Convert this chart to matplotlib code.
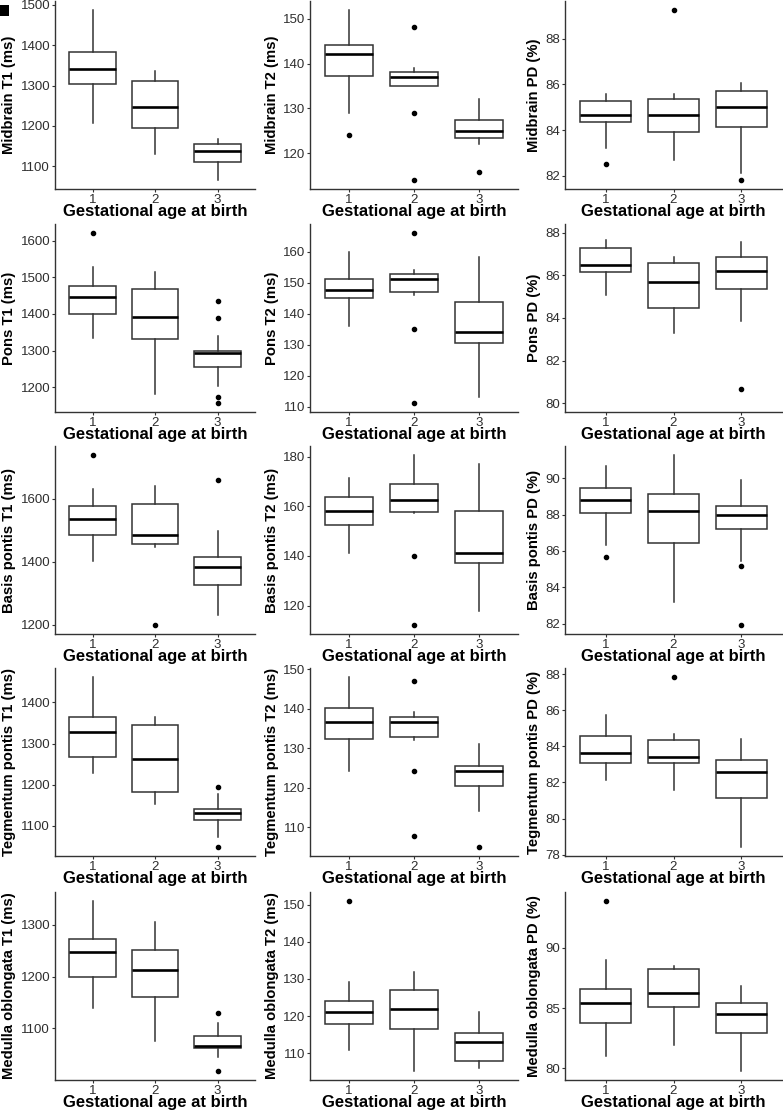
import matplotlib
matplotlib.use("Agg")
import matplotlib.pyplot as plt
from matplotlib.patches import Rectangle
from matplotlib.ticker import MultipleLocator

plt.rcParams['font.family'] = ['Liberation Sans', 'DejaVu Sans']

groups = [1, 2, 3]
xlabel = "Gestational age at birth"

# box stats per group: [lower whisker, Q1, median, Q3, upper whisker]
midbrain_t1 = [[1206, 1304, 1341, 1383, 1488], [1130, 1195, 1247, 1311, 1337], [1065, 1111, 1138, 1154, 1167]]
midbrain_t1_out = [[], [], []]
midbrain_t2 = [[129.0, 137.3, 142.1, 144.1, 152.1], [135.1, 135.1, 137.1, 138.1, 139.0], [122.0, 123.5, 125.0, 127.4, 132.0]]
midbrain_t2_out = [[124.0], [148.1, 129.0, 113.9], [115.9]]
midbrain_pd = [[83.2, 84.34, 84.65, 85.29, 85.58], [82.69, 83.92, 84.65, 85.36, 85.58], [82.12, 84.15, 85.0, 85.7, 86.07]]
midbrain_pd_out = [[82.5], [89.28], [81.8]]

pons_t1 = [[1333, 1400, 1447, 1476, 1530], [1182, 1331, 1392, 1468, 1515], [1204, 1255, 1292, 1300, 1339]]
pons_t1_out = [[1623], [], [1435, 1388, 1173, 1155]]
pons_t2 = [[136.0, 144.9, 147.5, 151.0, 160.0], [146.0, 147.0, 151.0, 152.8, 153.9], [113.1, 130.5, 134.0, 143.9, 158.1]]
pons_t2_out = [[], [166.1, 135.0, 111.1], []]
pons_pd = [[85.1, 86.14, 86.48, 87.3, 87.69], [83.3, 84.49, 85.69, 86.6, 86.88], [83.88, 85.35, 86.19, 86.89, 87.56]]
pons_pd_out = [[], [], [80.68]]

basis_t1 = [[1403, 1484, 1535, 1577, 1632], [1448, 1457, 1484, 1585, 1640], [1232, 1325, 1385, 1415, 1497]]
basis_t1_out = [[1741], [1198], [1661]]
basis_t2 = [[141.1, 152.6, 158.1, 163.9, 171.4], [157.2, 157.8, 162.7, 168.9, 180.8], [118.0, 137.0, 141.2, 158.0, 177.0]]
basis_t2_out = [[], [140.0, 112.0], []]
basis_pd = [[86.31, 88.11, 88.8, 89.47, 90.68], [83.19, 86.42, 88.22, 89.14, 91.31], [85.43, 87.2, 88.0, 88.49, 89.9]]
basis_pd_out = [[85.69], [], [85.2, 81.9]]

tegm_t1 = [[1228, 1266, 1328, 1364, 1463], [1153, 1181, 1262, 1346, 1364], [1072, 1113, 1130, 1141, 1178]]
tegm_t1_out = [[], [], [1195, 1047]]
tegm_t2 = [[124.1, 132.3, 136.6, 140.1, 148.1], [132.1, 132.9, 136.6, 138.0, 139.1], [114.0, 120.4, 124.1, 125.6, 131.0]]
tegm_t2_out = [[], [147.1, 124.1, 107.9], [104.9]]
tegm_pd = [[82.11, 83.1, 83.65, 84.55, 85.75], [81.6, 83.1, 83.4, 84.35, 84.7], [78.4, 81.15, 82.6, 83.25, 84.4]]
tegm_pd_out = [[], [87.87], []]

medulla_t1 = [[1140, 1200, 1248, 1273, 1347], [1076, 1161, 1212, 1252, 1305], [1045, 1062, 1067, 1086, 1110]]
medulla_t1_out = [[], [], [1130, 1017]]
medulla_t2 = [[111.0, 118.0, 121.1, 124.0, 129.1], [105.1, 116.5, 122.0, 127.0, 132.0], [106.0, 108.0, 113.1, 115.5, 121.0]]
medulla_t2_out = [[151.1], [], []]
medulla_pd = [[81.0, 83.75, 85.4, 86.6, 89.0], [81.9, 85.05, 86.25, 88.2, 88.45], [79.75, 82.95, 84.5, 85.4, 86.85]]
medulla_pd_out = [[93.9], [], []]

panels = [
    ("Midbrain T1 (ms)", midbrain_t1, midbrain_t1_out, 100),
    ("Midbrain T2 (ms)", midbrain_t2, midbrain_t2_out, 10),
    ("Midbrain PD (%)", midbrain_pd, midbrain_pd_out, 2),
    ("Pons T1 (ms)", pons_t1, pons_t1_out, 100),
    ("Pons T2 (ms)", pons_t2, pons_t2_out, 10),
    ("Pons PD (%)", pons_pd, pons_pd_out, 2),
    ("Basis pontis T1 (ms)", basis_t1, basis_t1_out, 200),
    ("Basis pontis T2 (ms)", basis_t2, basis_t2_out, 20),
    ("Basis pontis PD (%)", basis_pd, basis_pd_out, 2),
    ("Tegmentum pontis T1 (ms)", tegm_t1, tegm_t1_out, 100),
    ("Tegmentum pontis T2 (ms)", tegm_t2, tegm_t2_out, 10),
    ("Tegmentum pontis PD (%)", tegm_pd, tegm_pd_out, 2),
    ("Medulla oblongata T1 (ms)", medulla_t1, medulla_t1_out, 100),
    ("Medulla oblongata T2 (ms)", medulla_t2, medulla_t2_out, 10),
    ("Medulla oblongata PD (%)", medulla_pd, medulla_pd_out, 5),
]

# axes placement in pixels
W, H = 783, 1110
col_left = [55, 310, 565]
col_width = [200, 208, 217]
row_top = [1, 224, 446, 668, 892]
row_h = 188

line_c = "#333333"
fig = plt.figure(figsize=(W / 100, H / 100), dpi=100)

for k, (label, stats, outs, step) in enumerate(panels):
    r, c = divmod(k, 3)
    ax = fig.add_axes([col_left[c] / W, 1 - (row_top[r] + row_h) / H, col_width[c] / W, row_h / H])
    bx = []
    for i, s in enumerate(stats):
        bx.append(dict(whislo=s[0], q1=s[1], med=s[2], q3=s[3], whishi=s[4],
                       fliers=outs[i], label=str(groups[i])))
    ax.bxp(bx, positions=groups, widths=0.75, showcaps=False, patch_artist=True,
           boxprops=dict(facecolor="white", edgecolor=line_c, linewidth=1.1),
           whiskerprops=dict(color=line_c, linewidth=1.1),
           medianprops=dict(color="black", linewidth=1.9),
           flierprops=dict(marker="o", markerfacecolor="black", markeredgecolor="black",
                           markersize=3, linestyle="none"))
    vals = [v for s in stats for v in s] + [v for o in outs for v in o]
    lo, hi = min(vals), max(vals)
    pad = 0.05 * (hi - lo)
    if label == "Pons PD (%)":
        ax.set_ylim(79.58, 88.42)
    else:
        ax.set_ylim(lo - pad, hi + pad)
    ax.set_xlim(0.4, 3.6)
    ax.yaxis.set_major_locator(MultipleLocator(step))
    for side in ["top", "right"]:
        ax.spines[side].set_visible(False)
    for side in ["left", "bottom"]:
        ax.spines[side].set_color(line_c)
        ax.spines[side].set_linewidth(1.0)
    ax.tick_params(direction="out", length=2.5, width=0.8, color=line_c,
                   labelsize=9.5, labelcolor="#2e2e2e", pad=1)
    ax.set_ylabel(label, fontsize=10.7, fontweight="bold", labelpad=3)
    ax.set_xlabel(xlabel, fontsize=12, fontweight="bold", labelpad=-1)

# small corner panel marker
fig.patches.append(Rectangle((0, 1 - 16 / H), 9 / W, 11 / H, transform=fig.transFigure,
                             facecolor="black", edgecolor="none"))

fig.savefig("out.png", dpi=100)
